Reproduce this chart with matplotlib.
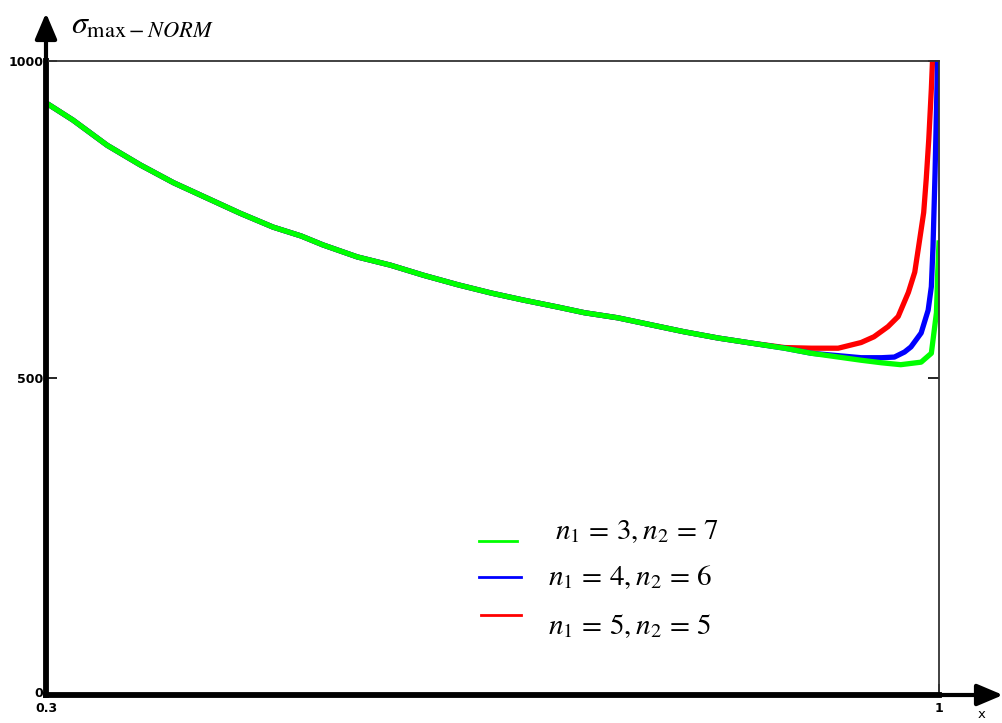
import numpy as np
import matplotlib
matplotlib.use("Agg")
import matplotlib.pyplot as plt
import matplotlib.transforms as mtransforms
from matplotlib.lines import Line2D
from matplotlib.patches import FancyArrowPatch

plt.rcParams['mathtext.fontset'] = 'stix'

# normalised max stress vs x, three layer splits
green_x = [0.300, 0.321, 0.348, 0.374, 0.400, 0.426, 0.452, 0.478, 0.500, 0.517,
           0.544, 0.570, 0.596, 0.623, 0.649, 0.674, 0.701, 0.722, 0.748, 0.774,
           0.800, 0.827, 0.853, 0.879, 0.900, 0.939, 0.955, 0.970, 0.986, 0.994,
           0.996, 0.998, 0.999, 1.000]
green_y = [934, 907, 867, 836, 808, 784, 760, 738, 724, 710,
           691, 678, 662, 647, 634, 623, 612, 603, 595, 584,
           573, 563, 555, 547, 539, 528, 524, 521, 525, 539,
           571, 603, 666, 713]

# where n1=4 and n1=5 leave the common curve
blue_tail_x = [0.939, 0.955, 0.965, 0.973, 0.978, 0.986, 0.9915, 0.994, 0.9953, 0.9969, 0.9990]
blue_tail_y = [532, 532, 533, 541, 549, 571, 607, 644, 707, 823, 1010]

red_tail_x = [0.879, 0.900, 0.921, 0.931, 0.939, 0.949, 0.960, 0.968, 0.976, 0.981,
              0.984, 0.988, 0.990, 0.992, 0.994, 0.995]
red_tail_y = [548, 547, 547, 552, 556, 565, 581, 597, 635, 667,
              707, 761, 814, 877, 956, 1005]

labels = [r'$n_1\,=\,3,n_2\,=\,7$', r'$n_1\,=\,4,n_2\,=\,6$', r'$n_1\,=\,5,n_2\,=\,5$']

W, H = 1003, 723


def fp(x, y):
    # pixel from top-left -> figure fraction
    return x / W, 1 - y / H


def join(tx, ty):
    xs = [x for x in green_x if x < tx[0]] + tx
    ys = [y for x, y in zip(green_x, green_y) if x < tx[0]] + ty
    return xs, ys


fig = plt.figure(figsize=(W / 100, H / 100), dpi=100)
ax = fig.add_axes([46 / W, 28 / H, 893 / W, 634 / H])

rx, ry = join(red_tail_x, red_tail_y)
bx, by = join(blue_tail_x, blue_tail_y)
ax.plot(rx, ry, color='#ff0000', lw=3.8, solid_joinstyle='round')
ax.plot(bx, by, color='#0000ff', lw=3.8, solid_joinstyle='round')
ax.plot(green_x, green_y, color='#00ff00', lw=3.8, solid_joinstyle='round')

ax.set_xlim(0.3, 1)
ax.set_ylim(0, 1000)

for s in ['left', 'bottom']:
    ax.spines[s].set_linewidth(4.2)
    ax.spines[s].set_color('black')
for s in ['top', 'right']:
    ax.spines[s].set_linewidth(1.3)
    ax.spines[s].set_color('#333333')

ax.set_xticks([0.3, 1])
ax.set_xticklabels(['0.3', '1'])
ax.set_yticks([0, 500, 1000])
ax.set_yticklabels(['0', '500', '1000'])
ax.tick_params(direction='in', length=8, width=1.2, right=True, labelsize=9, pad=2)
ax.tick_params(axis='x', pad=5)
for t in ax.get_xticklabels() + ax.get_yticklabels():
    t.set_fontweight('bold')
# lift the "0" a little so it clears "0.3"
zero = ax.get_yticklabels()[0]
zero.set_transform(zero.get_transform() +
                   mtransforms.ScaledTranslation(0, 3 / 100, fig.dpi_scale_trans))

# axis arrows
for p0, p1 in [((46, 70), (46, 13)), ((900, 695), (1003, 695))]:
    a = FancyArrowPatch(fp(*p0), fp(*p1), transform=fig.transFigure,
                        arrowstyle='-|>,head_length=1.3,head_width=0.55',
                        mutation_scale=12, lw=3.0, color='black', shrinkA=0, shrinkB=0)
    fig.add_artist(a)

fig.text(*fp(982, 715), 'x', fontsize=9.5, ha='center', va='center')
fig.text(*fp(71, 33), r'$\sigma_{\mathrm{max}-NORM}$', fontsize=23, va='baseline')

# legend
leg = [('#00ff00', 479, 517, 541, 555, 539),
       ('#0000ff', 479, 521, 577, 548, 585),
       ('#ff0000', 481, 521, 615, 548, 634)]
for (c, x0, x1, ly, tx, tb), lab in zip(leg, labels):
    fig.add_artist(Line2D([x0 / W, x1 / W], [1 - ly / H] * 2, color=c, lw=2,
                          transform=fig.transFigure))
    fig.text(*fp(tx, tb), lab, fontsize=21, va='baseline')

fig.savefig('out.png', dpi=100)
